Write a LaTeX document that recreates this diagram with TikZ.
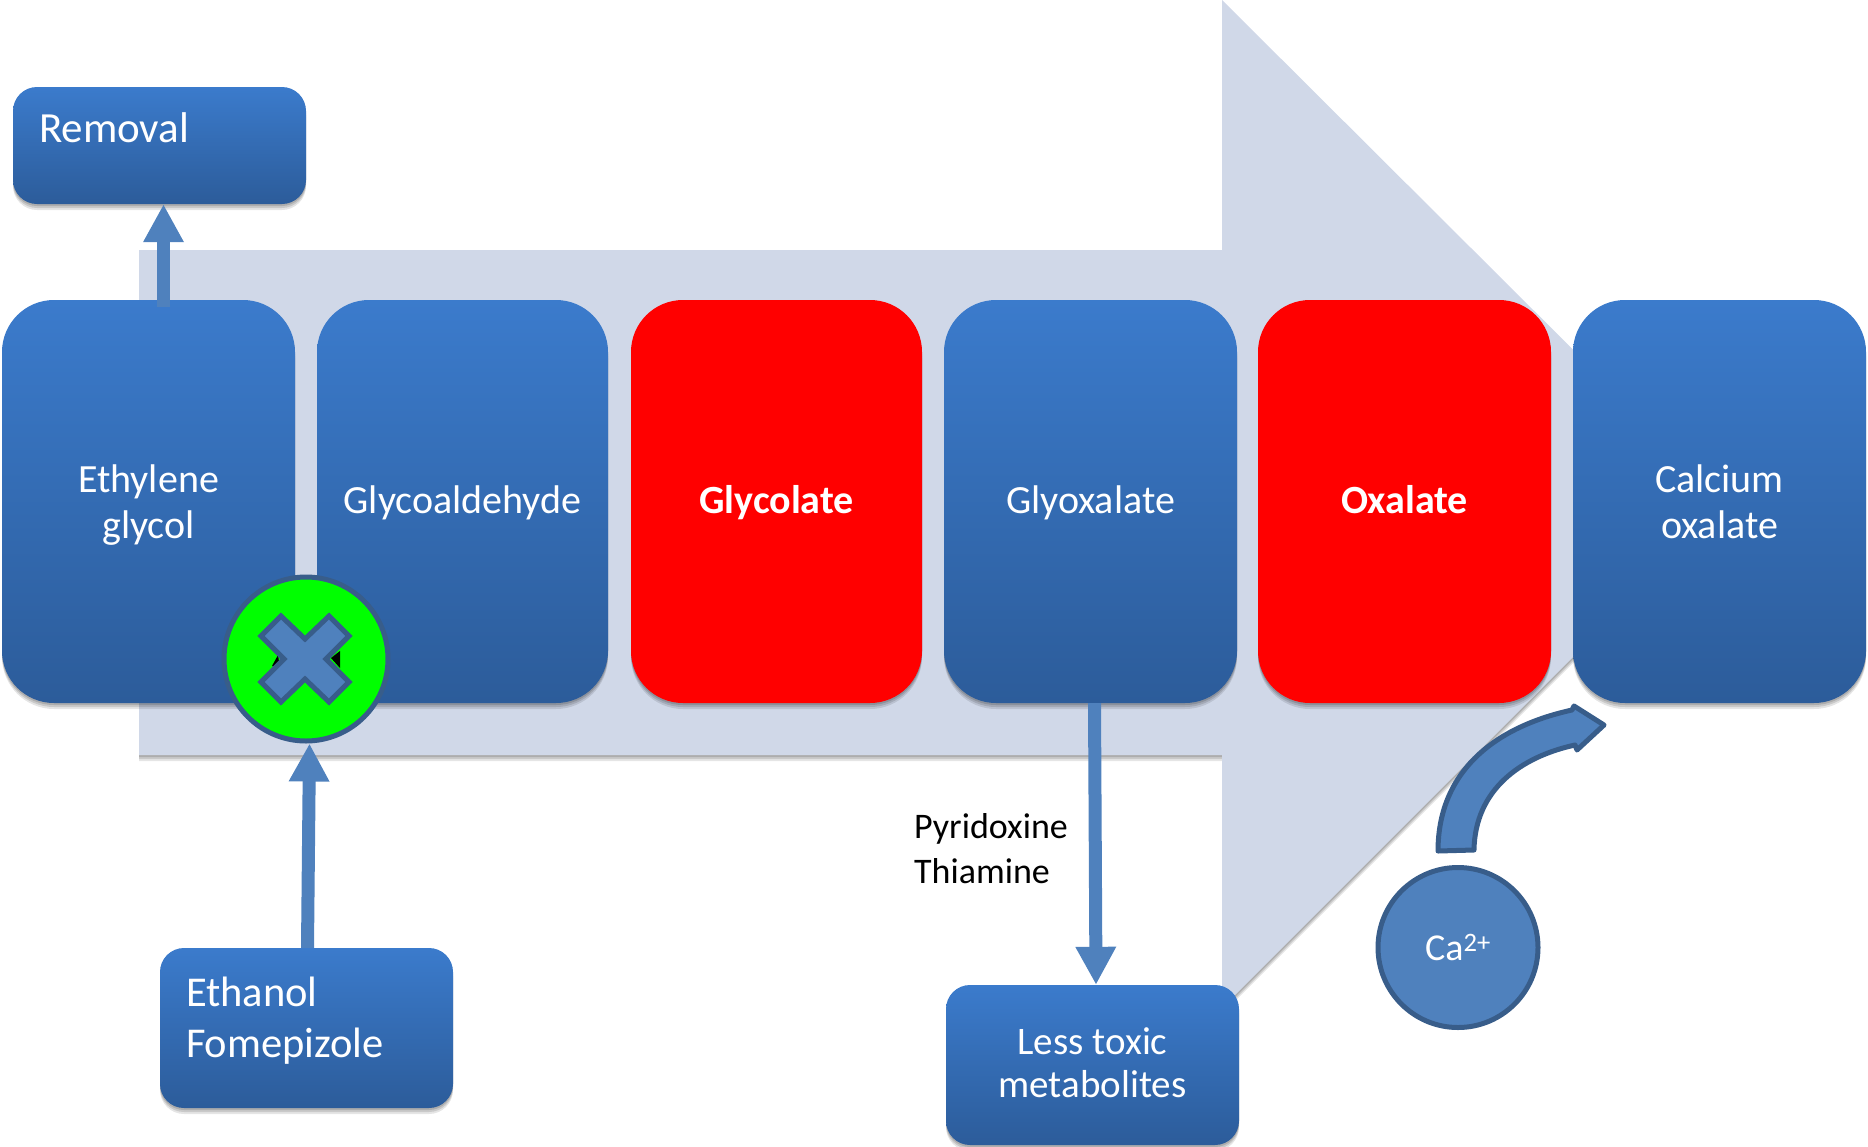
\documentclass[tikz,border=0pt]{standalone}
\usepackage{fontspec}
\setmainfont{Carlito}
\usetikzlibrary{arrows.meta,shadows}
\definecolor{boxtop}{HTML}{3B7BCC}
\definecolor{boxbottom}{HTML}{2C5C9A}
\definecolor{bigarrow}{HTML}{D0D8E8}
\definecolor{accent}{HTML}{4F81BD}
\definecolor{edge}{HTML}{385D8A}
\newcommand{\sized}[2]{\fontsize{#1pt}{#2pt}\selectfont}
\newcommand{\oneline}[1]{\strut\raisebox{-3pt}{#1}}
\newcommand{\twolines}[2]{\strut\raisebox{-5pt}{#1}\\\strut\raisebox{-5pt}{#2}}

\begin{document}
\begin{tikzpicture}[
      x=1pt,y=-1pt,
      softshadow/.style={
        drop shadow={shadow xshift=0pt,shadow yshift=-6pt,opacity=.1,fill=black},
        drop shadow={shadow xshift=0pt,shadow yshift=-4pt,opacity=.12,fill=black},
        drop shadow={shadow xshift=0pt,shadow yshift=-2pt,opacity=.14,fill=black}},
      every node/.style={inner sep=0pt,font=\sized{40}{46},text=white,align=center},
      bluefill/.style={top color=boxtop,bottom color=boxbottom,softshadow},
      stage/.style={bluefill,rounded corners=52pt,minimum width=293pt,minimum height=403pt},
      badstage/.style={fill=red,softshadow,rounded corners=52pt,minimum width=293pt,minimum height=403pt,font=\sized{40}{46}\bfseries},
      sidebox/.style={bluefill,rounded corners=24pt,text width=241pt,inner xsep=26pt,align=left},
      ion/.style={circle,draw=edge,line width=5pt,fill=accent,minimum size=160pt},
      flow/.style={draw=accent,line width=13pt,-{Triangle[length=38pt,width=38pt]}}
    ]
      \useasboundingbox (0,0) rectangle (1868,1146);

      % Draw the big arrow behind everything
      \path[fill=bigarrow,softshadow] (139,250) -- (1222,250) -- (1222,0) -- (1727,503)
        -- (1222,1008) -- (1222,755) -- (139,755) -- cycle;

      % Draw the stages, left to right
      \node[stage] (ethylene) at (148.5,501.5) {\twolines{Ethylene}{glycol}};
      \node[stage,minimum width=291pt] (aldehyde) at (462.5,501.5) {\oneline{Glycoaldehyde}};
      \node[badstage,minimum width=291pt] (glycolate) at (776.5,501.5) {\oneline{Glycolate}};
      \node[stage] (glyoxalate) at (1090.5,501.5) {\oneline{Glyoxalate}};
      \node[badstage] (oxalate) at (1404.5,501.5) {\oneline{Oxalate}};
      \node[stage] (calcium) at (1719.5,501.5) {\twolines{Calcium}{oxalate}};

      % Draw the side boxes
      \node[sidebox,minimum height=117pt,font=\sized{43}{52}] (removal) at (159.5,145.5) {Removal\\[-16pt]\mbox{}};
      \node[sidebox,minimum height=160pt,font=\sized{42.5}{51}] (ethanol) at (306.5,1028) {Ethanol\\Fomepizole\\[-30pt]\mbox{}};
      \node[bluefill,rounded corners=24pt,minimum width=293pt,minimum height=160pt,font=\sized{39}{43}] (less) at (1092.5,1065)
        {Less toxic\\metabolites\\[-38pt]\mbox{}};
      \node[text=black,align=left,font=\sized{36}{45}] (vitamins) at (991,849) {Pyridoxine\\Thiamine};
      \node[ion,font=\sized{38}{46}] (ca) at (1458,947.5) {Ca\textsuperscript{2+}};

      % Draw the blocked step
      \node[circle,draw=edge,line width=5pt,fill=green,minimum size=164pt] (block) at (306,659) {};
      \fill[black] (278,655) -- (272,666) -- (280,668) -- cycle;
      \fill[black] (331,658) -- (340,651) -- (340,668) -- cycle;
      \draw[edge,line width=5pt,fill=accent,line join=miter] (281,616) -- (305,639) -- (329,616)
        -- (349,636) -- (326,659) -- (349,682) -- (329,702) -- (305,679) -- (281,702)
        -- (261,682) -- (284,659) -- (261,636) -- cycle;

      % Draw the connectors
      \draw[flow] ([xshift=15pt,yshift=-7pt]ethylene.north) -- ([xshift=4pt]removal.south);
      \draw[flow] ([xshift=1pt]ethanol.north) -- ([xshift=3.5pt]block.south);
      \draw[flow] ([xshift=4pt]glyoxalate.south) -- ([xshift=3.5pt]less.north);

      % Draw the curved calcium arrow
      \draw[edge,line width=5pt,fill=accent,line join=round] (1438,851) .. controls (1438,775) and (1490,728) .. (1572,710)
        -- (1574,706) -- (1604,725) -- (1577,750) -- (1575,745)
        .. controls (1520,757) and (1475,790) .. (1474,850) -- cycle;
    \end{tikzpicture}
\end{document}
